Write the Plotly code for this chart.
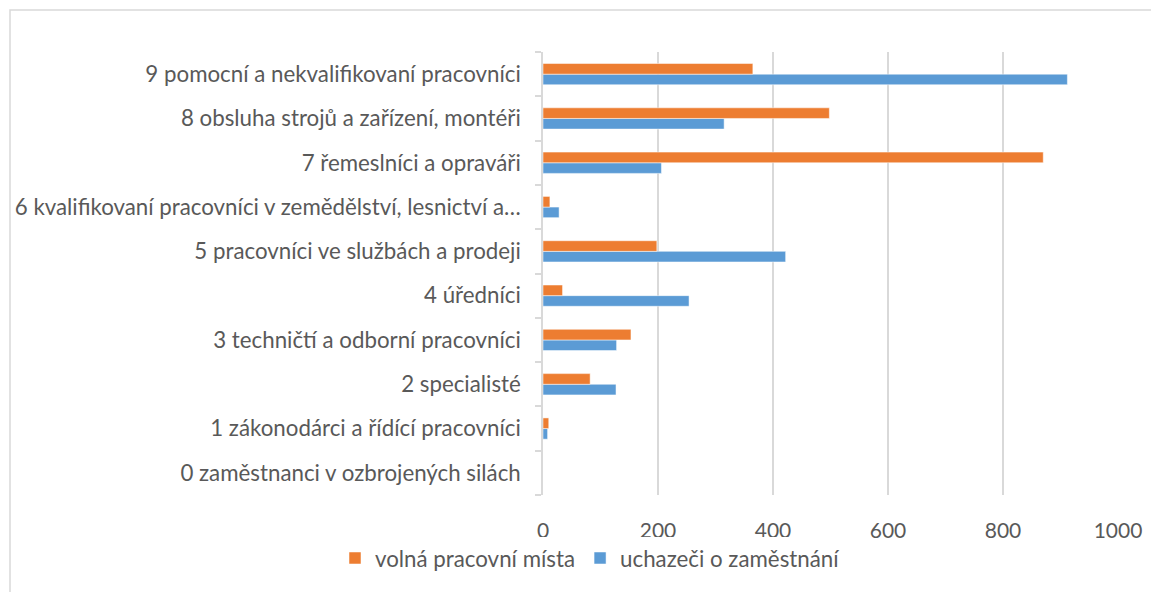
import plotly.graph_objects as go

categories = [
    "0 zaměstnanci v ozbrojených silách",
    "1 zákonodárci a řídící pracovníci",
    "2 specialisté",
    "3 techničtí a odborní pracovníci",
    "4 úředníci",
    "5 pracovníci ve službách a prodeji",
    "6 kvalifikovaní pracovníci v zemědělství, lesnictví a…",
    "7 řemeslníci a opraváři",
    "8 obsluha strojů a zařízení, montéři",
    "9 pomocní a nekvalifikovaní pracovníci",
]
volna_mista = [0, 10, 82, 153, 34, 198, 12, 870, 498, 365]
uchazeci = [0, 8, 127, 128, 254, 422, 28, 206, 315, 912]
x_ticks = [0, 200, 400, 600, 800, 1000]

# the page body adds an 8px margin, so the figure is 8px smaller
W, H = 1151, 584
L, R, T, B = 535, 41, 44, 97
pw, ph = W - L - R, H - T - B

fig = go.Figure()
fig.add_trace(go.Bar(y=categories, x=uchazeci, orientation="h", name="uchazeči o zaměstnání",
                     marker=dict(color="#5B9BD5", line=dict(color="#ffffff", width=0.5)), legendrank=2))
fig.add_trace(go.Bar(y=categories, x=volna_mista, orientation="h", name="volná pracovní místa",
                     marker=dict(color="#ED7D31", line=dict(color="#ffffff", width=0.5)), legendrank=1))

fig.update_layout(
    width=W, height=H,
    margin=dict(l=L, r=R, t=T, b=B, autoexpand=False),
    paper_bgcolor="white", plot_bgcolor="white",
    barmode="group", bargap=0.52, bargroupgap=0,
    font=dict(family="Lato", size=22.3, color="#595959"),
    showlegend=True,
    legend=dict(orientation="h", x=(327 - L) / pw, xanchor="left", y=-(550 - (H - B)) / ph, yanchor="middle",
                font=dict(size=22.3, color="#595959"), itemwidth=30, traceorder="normal"),
    xaxis=dict(range=[0, 1000], tickvals=x_ticks, showgrid=True, gridcolor="#d9d9d9", gridwidth=1.5,
               zeroline=False, showline=False, ticks="", ticklabelstandoff=21, automargin=False,
               tickfont=dict(size=21, color="#595959")),
    yaxis=dict(type="category", categoryorder="array", categoryarray=categories,
               showline=True, linecolor="#d9d9d9", linewidth=1.5, ticks="outside", tickson="boundaries",
               tickcolor="#d9d9d9", ticklen=6, tickwidth=1.5, showgrid=False, ticklabelstandoff=16,
               automargin=False, tickfont=dict(size=22.3, color="#595959")),
)

# chart-area border (Excel style)
x0 = (2 - L) / pw
y1 = 1 + (T - 2) / ph
x1 = (W + 5 - L) / pw
y0 = -(B + 5) / ph
fig.add_shape(type="rect", xref="paper", yref="paper", x0=x0, x1=x1, y0=y0, y1=y1,
              line=dict(color="#d9d9d9", width=1.5), fillcolor="rgba(0,0,0,0)", layer="below")

fig.write_html("out.html")
